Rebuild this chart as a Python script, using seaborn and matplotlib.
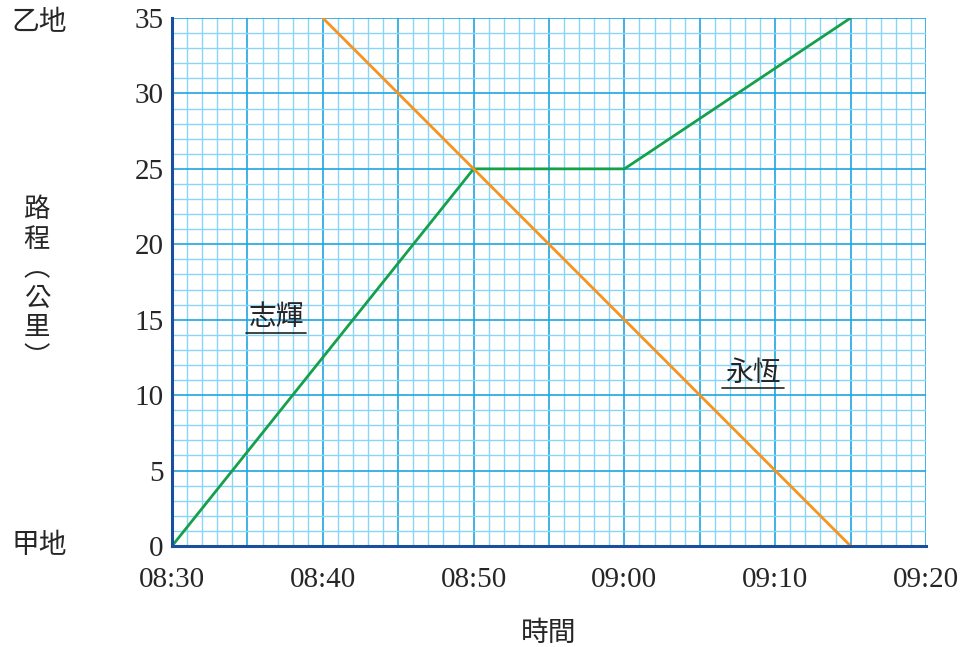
import pandas as pd
import matplotlib.pyplot as plt
import seaborn as sns
from matplotlib.ticker import MultipleLocator

# minutes after 08:30 and distance (km)
zhihui_min = [0, 20, 30, 45]
zhihui_km = [0, 25, 25, 35]
wingheng_min = [10, 45]
wingheng_km = [35, 0]

x_labels = ["08:30", "", "08:40", "", "08:50", "", "09:00", "", "09:10", "", "09:20"]
y_ticks = [0, 5, 10, 15, 20, 25, 30, 35]

df = pd.concat([
    pd.DataFrame({"t": zhihui_min, "d": zhihui_km, "name": "志輝"}),
    pd.DataFrame({"t": wingheng_min, "d": wingheng_km, "name": "永恆"}),
])

sns.set_style("white")
plt.rcParams["font.family"] = ["Liberation Serif", "Noto Sans CJK TC", "DejaVu Sans"]
cjk = ["Noto Sans CJK TC", "DejaVu Sans"]

fig = plt.figure(figsize=(9.67, 6.47), dpi=100)
ax = fig.add_axes([0.1779, 0.1561, 0.7797, 0.8161])

sns.lineplot(data=df, x="t", y="d", hue="name", palette={"志輝": "#16a04c", "永恆": "#f7931e"},
             linewidth=2, legend=False, ax=ax, zorder=3)

ax.set_xlim(0, 50)
ax.set_ylim(0, 35)
ax.xaxis.set_minor_locator(MultipleLocator(1))
ax.yaxis.set_minor_locator(MultipleLocator(1))
ax.grid(which="minor", color="#8ad5f5", linewidth=1.0, zorder=0)
ax.grid(which="major", color="#1ea6e0", linewidth=1.2, zorder=1)
ax.set_axisbelow(True)

ax.set_xticks(range(0, 51, 5))
ax.set_xticklabels(x_labels)
ax.set_yticks(y_ticks)
ax.tick_params(axis="both", which="both", length=0, labelsize=21)
ax.tick_params(axis="x", pad=15)
ax.tick_params(axis="y", pad=6)

for s in ["top", "right"]:
    ax.spines[s].set_visible(False)
for s in ["left", "bottom"]:
    ax.spines[s].set_color("#1a4f9e")
    ax.spines[s].set_linewidth(2.2)
    ax.spines[s].set_zorder(4)

ax.set_xlabel("")
ax.set_ylabel("")

fig.text(0.041, 0.966, "乙地", family=cjk, fontsize=20, ha="center", va="center")
fig.text(0.041, 0.157, "甲地", family=cjk, fontsize=20, ha="center", va="center")
fig.text(0.038, 0.562, "路\n程\n︵\n公\n里\n︶", family=cjk, fontsize=19,
         ha="center", va="center", linespacing=1.12)
fig.text(0.567, 0.022, "時間", family=cjk, fontsize=20, ha="center", va="center")

ax.text(6.9, 15.2, "志輝", family=cjk, fontsize=20, ha="center", va="center")
ax.plot([4.9, 8.9], [14.1, 14.1], color="#222222", linewidth=1.2, zorder=5)
ax.text(38.5, 11.5, "永恆", family=cjk, fontsize=20, ha="center", va="center")
ax.plot([36.5, 40.6], [10.45, 10.45], color="#222222", linewidth=1.2, zorder=5)

plt.savefig("out.png", dpi=100)
